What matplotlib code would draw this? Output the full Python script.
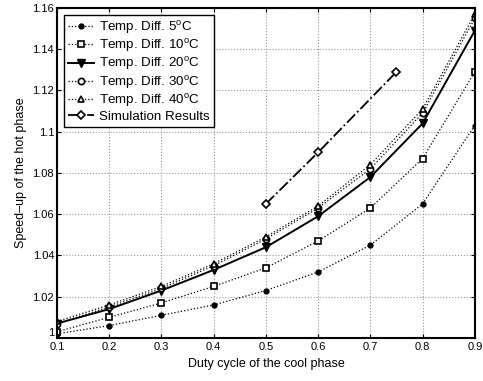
import matplotlib
matplotlib.use("Agg")
import matplotlib.pyplot as plt
from matplotlib.ticker import FuncFormatter

plt.rcParams['font.family'] = ['Liberation Sans', 'DejaVu Sans']
plt.rcParams['mathtext.fontset'] = 'custom'
plt.rcParams['mathtext.rm'] = 'Liberation Sans'
plt.rcParams['mathtext.it'] = 'Liberation Sans:italic'

duty = [0.1, 0.2, 0.3, 0.4, 0.5, 0.6, 0.7, 0.8, 0.9]
d5 = [1.002, 1.006, 1.011, 1.016, 1.023, 1.032, 1.045, 1.065, 1.103]
d10 = [1.003, 1.010, 1.017, 1.025, 1.034, 1.047, 1.063, 1.087, 1.129]
d20 = [1.007, 1.014, 1.023, 1.033, 1.044, 1.059, 1.078, 1.104, 1.149]
d30 = [1.007, 1.015, 1.024, 1.035, 1.048, 1.063, 1.082, 1.109, 1.155]
d40 = [1.008, 1.016, 1.025, 1.036, 1.049, 1.064, 1.084, 1.111, 1.157]
sim_x = [0.5, 0.6, 0.75]
sim_y = [1.065, 1.090, 1.129]

fig = plt.figure(figsize=(4.83, 3.81), dpi=100)
ax = fig.add_axes([0.118, 0.113, 0.865, 0.866])

ax.plot(duty, d5, ':', color='black', lw=0.9, marker='o', ms=3.5, mfc='black',
        label=r'Temp. Diff. 5$^{\mathrm{o}}$C')
ax.plot(duty, d10, ':', color='black', lw=0.9, marker='s', ms=4.5, mfc='white', mew=1.2,
        label=r'Temp. Diff. 10$^{\mathrm{o}}$C')
ax.plot(duty, d20, '-', color='black', lw=1.4, marker='v', ms=5.5, mfc='black',
        label=r'Temp. Diff. 20$^{\mathrm{o}}$C')
ax.plot(duty, d30, ':', color='black', lw=0.9, marker='o', ms=4.5, mfc='white', mew=1.2,
        label=r'Temp. Diff. 30$^{\mathrm{o}}$C')
ax.plot(duty, d40, ':', color='black', lw=0.9, marker='^', ms=5, mfc='white', mew=1.2,
        label=r'Temp. Diff. 40$^{\mathrm{o}}$C')
ax.plot(sim_x, sim_y, '-.', color='black', lw=1.3, marker='D', ms=4, mfc='white', mew=1.2,
        label='Simulation Results')

ax.set_xlim(0.1, 0.9)
ax.set_ylim(1.0, 1.16)
ax.set_xticks(duty)
ax.set_yticks([1.0, 1.02, 1.04, 1.06, 1.08, 1.1, 1.12, 1.14, 1.16])
ax.xaxis.set_major_formatter(FuncFormatter(lambda v, p: '%g' % round(v, 2)))
ax.yaxis.set_major_formatter(FuncFormatter(lambda v, p: '%g' % round(v, 2)))
ax.tick_params(direction='in', top=True, right=True, labelsize=8, length=3, width=0.8, pad=3)
ax.tick_params(axis='y', pad=2)
ax.grid(True, linestyle=':', color='#999999', lw=0.8)
for s in ax.spines.values():
    s.set_linewidth(1.5)

# bottom y label sits just above the x axis, as in the original
fig.canvas.draw()
ax.get_yticklabels()[0].set_verticalalignment('bottom')

ax.set_xlabel('Duty cycle of the cool phase', fontsize=9)
ax.set_ylabel('Speed\u2013up of the hot phase', fontsize=9)

leg = ax.legend(loc='upper left', fontsize=9.6, fancybox=False, framealpha=1,
                edgecolor='black', handlelength=2.0, borderpad=0.3, labelspacing=0.1,
                handletextpad=0.35, borderaxespad=0.5)
leg.get_frame().set_linewidth(1.0)

fig.savefig('out.png', dpi=100)
